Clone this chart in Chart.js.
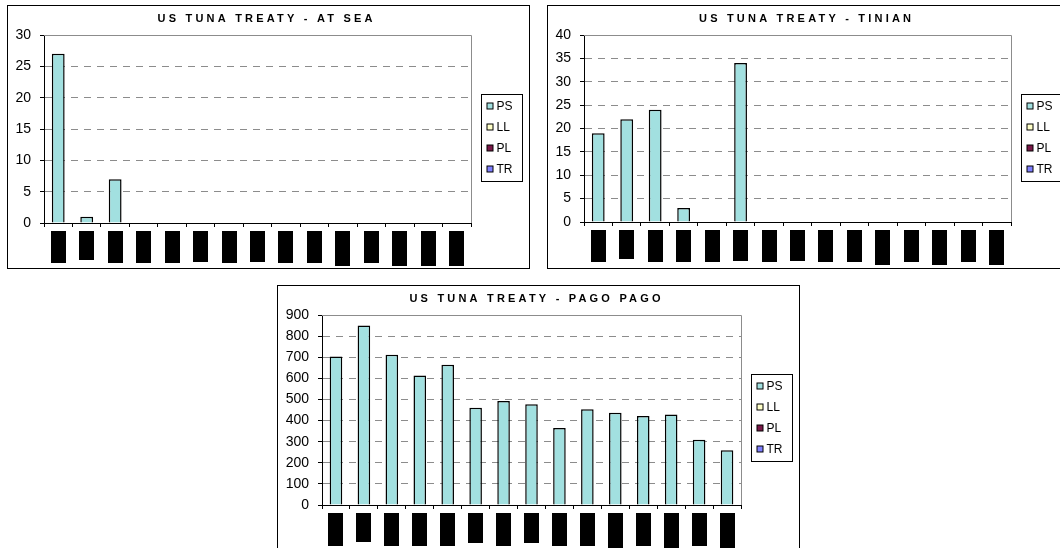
<!DOCTYPE html>
<html lang="en">
<head>
  <meta charset="UTF-8">
  <title>US Tuna Treaty</title>
  <script src="https://cdn.jsdelivr.net/npm/chart.js"></script>
  <style>
    body {
      margin: 0;
      width: 1060px;
      height: 548px;
      overflow: hidden;
      position: relative;
      background: #ffffff;
    }
    .panel {
      position: absolute;
      width: 521px;
      height: 262px;
      border: 1px solid #000;
      background: #fff;
    }
    .panel canvas { display: block; }
  </style>
</head>
<body>

<div class="panel" style="left:7px; top:5px;"><canvas id="atSea" width="521" height="262"></canvas></div>
<div class="panel" style="left:547px; top:5px;"><canvas id="tinian" width="521" height="262"></canvas></div>
<div class="panel" style="left:277px; top:285px;"><canvas id="pagoPago" width="521" height="262"></canvas></div>

<script>
  // the year labels are blacked out in the source, so the categories are just numbered
  const categories = ['1', '2', '3', '4', '5', '6', '7', '8', '9', '10', '11', '12', '13', '14', '15'];
  const gearTypes = ['PS', 'LL', 'PL', 'TR'];
  const gearColors = ['#a2e0e0', '#ffffc8', '#7a1848', '#8080ff'];

  const atSeaPS = [27, 1, 7, 0, 0, 0, 0, 0, 0, 0, 0, 0, 0, 0, 0];
  const tinianPS = [19, 22, 24, 3, 0, 34, 0, 0, 0, 0, 0, 0, 0, 0, 0];
  const pagoPagoPS = [704, 850, 712, 614, 664, 461, 493, 477, 365, 453, 437, 421, 429, 309, 259];
  const noCatch = [0, 0, 0, 0, 0, 0, 0, 0, 0, 0, 0, 0, 0, 0, 0];   // LL, PL, TR

  // lengths of the black boxes covering the x labels
  const atSeaRedact = [32, 29, 32, 32, 32, 31, 32, 31, 32, 32, 35, 32, 35, 35, 35];
  const tinianRedact = [32, 29, 32, 32, 32, 31, 32, 31, 32, 32, 35, 32, 35, 32, 35];
  const pagoPagoRedact = [33, 29, 33, 33, 33, 30, 33, 30, 33, 33, 35, 33, 35, 33, 35];

  Chart.defaults.font.family = '"Liberation Sans", Arial, sans-serif';
  Chart.defaults.color = '#000';

  // title, legend box, plot frame and the redaction boxes, Excel style
  const excelLook = {
    id: 'excelLook',
    beforeDatasetsDraw(chart) {
      const { ctx, chartArea: a } = chart;
      ctx.save();
      ctx.strokeStyle = '#8c8c8c';
      ctx.lineWidth = 1;
      ctx.beginPath();
      ctx.moveTo(a.left, a.top + 0.5);
      ctx.lineTo(a.right + 0.5, a.top + 0.5);
      ctx.lineTo(a.right + 0.5, a.bottom);
      ctx.stroke();
      ctx.restore();
    },
    afterDraw(chart, args, opts) {
      const { ctx, chartArea: a } = chart;
      ctx.save();

      // title
      ctx.font = 'bold 11px "Liberation Sans", Arial, sans-serif';
      ctx.fillStyle = '#000';
      ctx.textBaseline = 'alphabetic';
      ctx.letterSpacing = '3.2px';
      const tw = ctx.measureText(opts.title).width - 3.2;
      ctx.fillText(opts.title, 257 - tw / 2, 15.5);
      ctx.letterSpacing = '0px';

      // legend
      const lx = 473.5, ly = 88.5, lw = 41, lh = 87;
      ctx.strokeStyle = '#000';
      ctx.lineWidth = 1;
      ctx.strokeRect(lx, ly, lw, lh);
      ctx.font = '12px "Liberation Sans", Arial, sans-serif';
      ctx.textBaseline = 'middle';
      gearTypes.forEach((name, i) => {
        const cy = Math.round(ly + 11 + i * 21.3);
        ctx.fillStyle = gearColors[i];
        ctx.fillRect(lx + 5.5, cy - 3, 6, 6);
        ctx.strokeRect(lx + 5.5, cy - 3, 6, 6);
        ctx.fillStyle = '#000';
        ctx.fillText(name, lx + 15, cy + 0.5);
      });

      // redacted x labels
      const xs = chart.scales.x;
      ctx.fillStyle = '#000';
      opts.redact.forEach((h, i) => {
        const cx = xs.getPixelForValue(i);
        ctx.fillRect(Math.round(cx - 7.5), a.bottom + 8, 15, h);
      });

      ctx.restore();
    }
  };

  function makeChart(id, title, psValues, redact, yMax, yStep, yWidth, plotBottom) {
    const datasets = gearTypes.map((name, i) => ({
      label: name,
      data: i === 0 ? psValues : noCatch,
      backgroundColor: gearColors[i],
      borderColor: '#000',
      borderWidth: 1.5,
      barPercentage: 0.45,
      categoryPercentage: 1.0
    }));

    return new Chart(document.getElementById(id), {
      type: 'bar',
      data: { labels: categories, datasets: datasets },
      options: {
        responsive: false,
        animation: false,
        events: [],
        layout: { padding: { top: 29, right: 58, left: 0, bottom: 0 } },
        plugins: {
          legend: { display: false },
          tooltip: { enabled: false },
          excelLook: { title: title, redact: redact }
        },
        scales: {
          x: {
            stacked: true,
            ticks: { display: false },
            grid: { drawOnChartArea: false, color: '#000', tickLength: 4, offset: true },
            border: { color: '#000' },
            afterFit: s => { s.height = 262 - plotBottom; }
          },
          y: {
            stacked: true,
            min: 0,
            max: yMax,
            ticks: { stepSize: yStep, color: '#000', font: { size: 14 }, padding: 9 },
            grid: {
              color: c => (c.tick && c.tick.value === 0) ? 'rgba(0,0,0,0)' : '#8c8c8c',
              tickColor: '#000',
              tickLength: 4
            },
            border: { color: '#000', dash: [7, 6] },
            afterFit: s => { s.width = yWidth; }
          }
        }
      },
      plugins: [excelLook]
    });
  }

  makeChart('atSea', 'US TUNA TREATY - AT SEA', atSeaPS, atSeaRedact, 30, 5, 36, 217);
  makeChart('tinian', 'US TUNA TREATY - TINIAN', tinianPS, tinianRedact, 40, 5, 36, 216);
  makeChart('pagoPago', 'US TUNA TREATY - PAGO PAGO', pagoPagoPS, pagoPagoRedact, 900, 100, 44, 219);
</script>

</body>
</html>
